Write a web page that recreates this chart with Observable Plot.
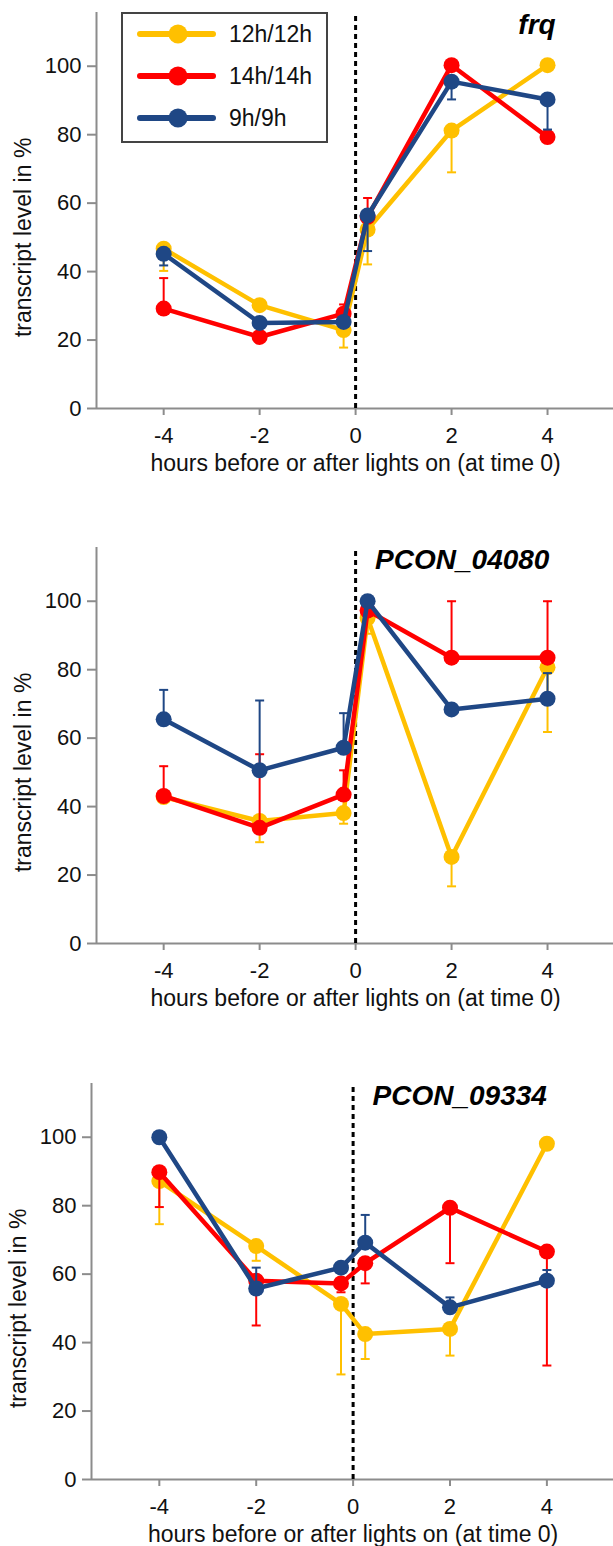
<!DOCTYPE html>
<html>
<head>
<meta charset="utf-8">
<script src="https://cdn.jsdelivr.net/npm/d3@7"></script>
<script src="https://cdn.jsdelivr.net/npm/@observablehq/plot@0.6"></script>
<style>
  html, body { margin: 0; padding: 0; background: #fff; }
  #wrap { position: relative; width: 613px; }
  .panel { position: relative; width: 613px; overflow: visible; }
  .legend { position: absolute; left: 121px; top: 12px; width: 203px; height: 127px;
            border: 2px solid #444; background: #fff; box-sizing: content-box; }
  svg { overflow: visible; }
</style>
</head>
<body>
<div id="wrap"></div>
<script>
// ---------- data ----------
const times = [-4, -2, -0.25, 0.25, 2, 4];
const seriesNames = ["12h/12h", "14h/14h", "9h/9h"];
const seriesColors = ["#FFC000", "#FF0000", "#1F4785"];
const genes = ["frq", "PCON_04080", "PCON_09334"];
const geneLabelX = [4.17, 4.04, 4.0];
const xTicks = [-4, -2, 0, 2, 4];
const yTicks = [0, 20, 40, 60, 80, 100];
const xTitle = "hours before or after lights on (at time 0)";
const yTitle = "transcript level in %";

// frq
const frq_12 = [46.7, 30.2, 22.9, 52.3, 81.2, 100.3];
const frq_12_err = [40.2, null, 17.8, 42.1, 69.0, null];
const frq_14 = [29.2, 20.9, 27.7, 56.0, 100.3, 79.3];
const frq_14_err = [38.1, null, 30.4, 61.5, null, null];
const frq_9 = [45.2, 25.0, 25.3, 56.4, 95.5, 90.3];
const frq_9_err = [41.8, null, null, 46.0, 90.3, 81.5];

// PCON_04080
const p04080_12 = [42.8, 35.8, 38.1, 95.1, 25.3, 80.7];
const p04080_12_err = [41.8, 29.6, 35.0, 90.5, 16.7, 61.8];
const p04080_14 = [43.1, 33.8, 43.5, 97.3, 83.5, 83.5];
const p04080_14_err = [51.8, 55.3, 50.6, null, 100, 100];
const p04080_9 = [65.5, 50.6, 57.2, 100, 68.4, 71.5];
const p04080_9_err = [74.1, 71.0, 67.3, null, null, 79.0];

// PCON_09334
const p09334_12 = [87.2, 68.2, 51.3, 42.5, 44.0, 98.1];
const p09334_12_err = [74.6, 63.9, 30.7, 35.2, 36.2, null];
const p09334_14 = [89.8, 58.1, 57.3, 63.2, 79.4, 66.6];
const p09334_14_err = [79.6, 45.0, 54.7, 57.3, 63.2, 33.3];
const p09334_9 = [100, 55.8, 61.9, 69.2, 50.3, 58.1];
const p09334_9_err = [null, 61.9, null, 77.3, 53.2, 61.2];

const panelValues = [
  [[frq_12, frq_12_err], [frq_14, frq_14_err], [frq_9, frq_9_err]],
  [[p04080_12, p04080_12_err], [p04080_14, p04080_14_err], [p04080_9, p04080_9_err]],
  [[p09334_12, p09334_12_err], [p09334_14, p09334_14_err], [p09334_9, p09334_9_err]]
];

// ---------- layout ----------
const panelHeights = [535, 536, 475];
const panelLeft = [96, 96, 91];
const plotBottom = 408;
const marginTop = 12;
const xDomain = [-5.4, 5.375];
const yDomain = [0, 115.7];
const axisColor = "#8c8c8c";
const FONT = "'Liberation Sans', Arial, Helvetica, sans-serif";

// horizontal cap symbol for error bars
const capSymbol = {
  draw(ctx, size) {
    const w = Math.sqrt(size / Math.PI);
    ctx.moveTo(-w, 0);
    ctx.lineTo(w, 0);
  }
};

const wrap = document.getElementById("wrap");

genes.forEach((gene, p) => {
  const H = panelHeights[p];
  const marks = [];
  // axes lines
  marks.push(Plot.ruleY([0], {stroke: axisColor, strokeWidth: 2}));
  marks.push(Plot.ruleX([xDomain[0]], {y1: yDomain[0], y2: yDomain[1], stroke: axisColor, strokeWidth: 2}));
  marks.push(Plot.axisY({ticks: yTicks, tickSize: 9, tickPadding: 6, fontSize: 22, stroke: axisColor, strokeWidth: 2, fill: "#111", label: null}));
  marks.push(Plot.axisX({ticks: xTicks, tickFormat: d => String(d), tickSize: 7, tickPadding: 12, fontSize: 22, stroke: axisColor, strokeWidth: 2, fill: "#111", label: null}));
  // dashed lights-on line
  marks.push(Plot.ruleX([0], {y1: yDomain[0], y2: yDomain[1], stroke: "#000", strokeWidth: 3, strokeDasharray: "5,4"}));

  seriesNames.forEach((s, i) => {
    const [vals, errs] = panelValues[p][i];
    const rows = times.map((t, j) => ({t, v: vals[j], e: errs[j], s}));
    const errRows = rows.filter(d => d.e != null);
    const color = seriesColors[i];
    marks.push(Plot.ruleX(errRows, {x: "t", y1: "v", y2: "e", stroke: color, strokeWidth: 2}));
    marks.push(Plot.dot(errRows, {x: "t", y: "e", r: 4.5, symbol: capSymbol, stroke: color, strokeWidth: 2, fill: "none"}));
    marks.push(Plot.line(rows, {x: "t", y: "v", stroke: color, strokeWidth: 4.5, strokeLinejoin: "round", strokeLinecap: "round"}));
    marks.push(Plot.dot(rows, {x: "t", y: "v", r: 8, fill: color, stroke: "none"}));
  });

  // gene label
  marks.push(Plot.text([gene], {x: geneLabelX[p], y: 112, text: d => d, textAnchor: "end", fontSize: 28, fontWeight: "bold", fontStyle: "italic", fill: "#000"}));
  // axis titles
  marks.push(Plot.text([xTitle], {x: (xTicks[0] + xTicks[xTicks.length - 1]) / 2, frameAnchor: "bottom", dy: 62, textAnchor: "middle", text: d => d, fontSize: 23, fill: "#111"}));
  marks.push(Plot.text([yTitle], {y: (yTicks[0] + yTicks[yTicks.length - 1]) / 2, frameAnchor: "left", dx: -73, rotate: -90, textAnchor: "middle", lineAnchor: "middle", text: d => d, fontSize: 23, fill: "#111"}));

  const chart = Plot.plot({
    width: 613,
    height: H,
    marginTop: marginTop,
    marginBottom: H - plotBottom,
    marginLeft: panelLeft[p],
    marginRight: 0,
    x: {domain: xDomain, axis: null},
    y: {domain: yDomain, axis: null},
    style: {fontFamily: FONT, fontSize: "22px", background: "#fff", overflow: "visible"},
    marks
  });

  const div = document.createElement("div");
  div.className = "panel";
  div.style.height = H + "px";
  div.appendChild(chart);

  if (p === 0) {
    // legend
    const lg = document.createElement("div");
    lg.className = "legend";
    const ns = "http://www.w3.org/2000/svg";
    const svg = document.createElementNS(ns, "svg");
    svg.setAttribute("width", 203);
    svg.setAttribute("height", 127);
    svg.style.fontFamily = FONT;
    seriesNames.forEach((name, i) => {
      const cy = 20 + i * 42;
      const line = document.createElementNS(ns, "line");
      line.setAttribute("x1", 17); line.setAttribute("x2", 90);
      line.setAttribute("y1", cy); line.setAttribute("y2", cy);
      line.setAttribute("stroke", seriesColors[i]);
      line.setAttribute("stroke-width", 6);
      line.setAttribute("stroke-linecap", "round");
      svg.appendChild(line);
      const c = document.createElementNS(ns, "circle");
      c.setAttribute("cx", 55); c.setAttribute("cy", cy); c.setAttribute("r", 9.5);
      c.setAttribute("fill", seriesColors[i]);
      svg.appendChild(c);
      const tx = document.createElementNS(ns, "text");
      tx.setAttribute("x", 106); tx.setAttribute("y", cy);
      tx.setAttribute("dy", "0.35em");
      tx.setAttribute("font-size", 23);
      tx.setAttribute("fill", "#111");
      tx.textContent = name;
      svg.appendChild(tx);
    });
    lg.appendChild(svg);
    div.appendChild(lg);
  }
  wrap.appendChild(div);
});
</script>
</body>
</html>
